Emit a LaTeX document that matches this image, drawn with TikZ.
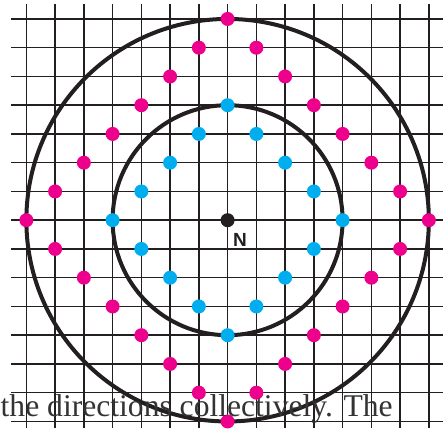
\documentclass[tikz,border=0pt]{standalone}
\usepackage{fontspec}
\setmainfont{Liberation Serif}
\newfontfamily\labelfont{Liberation Sans}
\definecolor{dotmag}{HTML}{EC008C}
\definecolor{dotcyan}{HTML}{00AEEF}
\definecolor{gridcol}{HTML}{231F20}
\definecolor{txtcol}{HTML}{333333}
\tikzset{
  gridline/.style={draw=gridcol, line width=1.5pt},
  ring/.style={draw=gridcol, line width=4pt},
  magdot/.style={circle, fill=dotmag, inner sep=0pt, minimum size=14pt},
  cyandot/.style={circle, fill=dotcyan, inner sep=0pt, minimum size=14pt},
  centerdot/.style={circle, fill=gridcol, inner sep=0pt, minimum size=14pt},
}
\begin{document}
\begin{tikzpicture}[x=1pt,y=-1pt]
\useasboundingbox (0,0) rectangle (443,428);
\def\cx{227.6}
\def\cy{220.2}
\def\u{28.75}
% grid
\foreach \k in {-7,...,7} {
  \draw[gridline] ({\cx+\k*\u},4) -- ({\cx+\k*\u},428);
  \draw[gridline] (11,{\cy+\k*\u}) -- (443,{\cy+\k*\u});
}
% rings
\coordinate (c) at (\cx,\cy);
\draw[ring] (c) circle[radius={4*\u}];
\draw[ring] (c) circle[radius={7*\u}];
% cyan dots: |i|+|j| = 4
\foreach \i in {-4,...,4} {
  \pgfmathtruncatemacro{\j}{4-abs(\i)}
  \node[cyandot] (cy\i a) at ({\cx+\i*\u},{\cy-\j*\u}) {};
  \ifnum\j>0
    \node[cyandot] (cy\i b) at ({\cx+\i*\u},{\cy+\j*\u}) {};
  \fi
}
% magenta dots: |i|+|j| = 7
\foreach \i in {-7,...,7} {
  \pgfmathtruncatemacro{\j}{7-abs(\i)}
  \node[magdot] (mg\i a) at ({\cx+\i*\u},{\cy-\j*\u}) {};
  \ifnum\j>0
    \node[magdot] (mg\i b) at ({\cx+\i*\u},{\cy+\j*\u}) {};
  \fi
}
% center
\node[centerdot] (N) at (c) {};
\node[anchor=base west, inner sep=0pt, font=\labelfont\bfseries\fontsize{19}{19}\selectfont, text=gridcol] (Nlabel) at (233,246.7) {N};
% text
\node[anchor=base west, inner sep=0pt, font=\fontsize{31.6}{34}\selectfont, text=txtcol] (txt) at (0.5,416.7) {the directions collectively. The};
\end{tikzpicture}
\end{document}
